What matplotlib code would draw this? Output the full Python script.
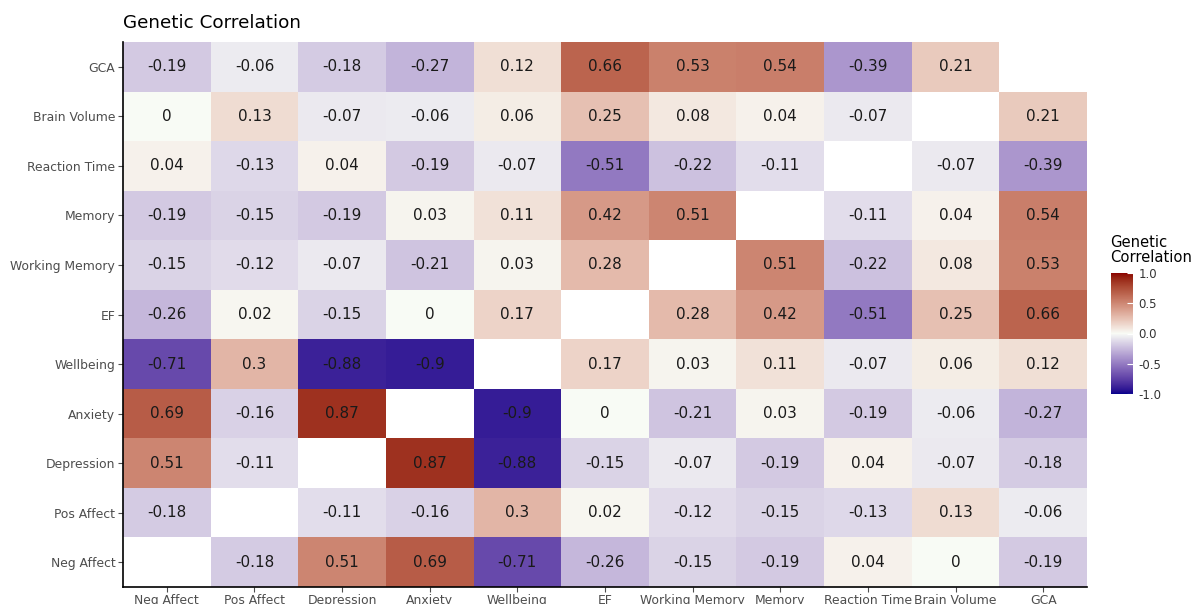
import numpy as np
import matplotlib
matplotlib.use("Agg")
import matplotlib.pyplot as plt
from matplotlib.colors import ListedColormap, Normalize, to_rgb

traits = ["Neg Affect", "Pos Affect", "Depression", "Anxiety", "Wellbeing", "EF",
          "Working Memory", "Memory", "Reaction Time", "Brain Volume", "GCA"]

# rows in order of traits (bottom to top), columns in order of traits (left to right)
row_neg_affect = [None, -0.18, 0.51, 0.69, -0.71, -0.26, -0.15, -0.19, 0.04, 0, -0.19]
row_pos_affect = [-0.18, None, -0.11, -0.16, 0.3, 0.02, -0.12, -0.15, -0.13, 0.13, -0.06]
row_depression = [0.51, -0.11, None, 0.87, -0.88, -0.15, -0.07, -0.19, 0.04, -0.07, -0.18]
row_anxiety = [0.69, -0.16, 0.87, None, -0.9, 0, -0.21, 0.03, -0.19, -0.06, -0.27]
row_wellbeing = [-0.71, 0.3, -0.88, -0.9, None, 0.17, 0.03, 0.11, -0.07, 0.06, 0.12]
row_ef = [-0.26, 0.02, -0.15, 0, 0.17, None, 0.28, 0.42, -0.51, 0.25, 0.66]
row_working_memory = [-0.15, -0.12, -0.07, -0.21, 0.03, 0.28, None, 0.51, -0.22, 0.08, 0.53]
row_memory = [-0.19, -0.15, -0.19, 0.03, 0.11, 0.42, 0.51, None, -0.11, 0.04, 0.54]
row_reaction_time = [0.04, -0.13, 0.04, -0.19, -0.07, -0.51, -0.22, -0.11, None, -0.07, -0.39]
row_brain_volume = [0, 0.13, -0.07, -0.06, 0.06, 0.25, 0.08, 0.04, -0.07, None, 0.21]
row_gca = [-0.19, -0.06, -0.18, -0.27, 0.12, 0.66, 0.53, 0.54, -0.39, 0.21, None]

rows = [row_neg_affect, row_pos_affect, row_depression, row_anxiety, row_wellbeing,
        row_ef, row_working_memory, row_memory, row_reaction_time, row_brain_volume, row_gca]
M = np.array([[np.nan if v is None else v for v in r] for r in rows], dtype=float)

# ---- Lab-space diverging palette (like ggplot scale_fill_gradient2) ----
def srgb_to_lab(c):
    c = np.asarray(c, float)
    lin = np.where(c <= 0.04045, c / 12.92, ((c + 0.055) / 1.055) ** 2.4)
    Mx = np.array([[0.4124564, 0.3575761, 0.1804375],
                   [0.2126729, 0.7151522, 0.0721750],
                   [0.0193339, 0.1191920, 0.9503041]])
    xyz = Mx @ lin
    wp = np.array([0.95047, 1.0, 1.08883])
    t = xyz / wp
    f = np.where(t > 216 / 24389, np.cbrt(t), (24389 / 27 * t + 16) / 116)
    return np.array([116 * f[1] - 16, 500 * (f[0] - f[1]), 200 * (f[1] - f[2])])

def lab_to_srgb(lab):
    L, a, b = lab
    fy = (L + 16) / 116
    fx = fy + a / 500
    fz = fy - b / 200
    def finv(f):
        return f ** 3 if f ** 3 > 216 / 24389 else (116 * f - 16) / (24389 / 27)
    wp = np.array([0.95047, 1.0, 1.08883])
    xyz = np.array([finv(fx), finv(fy), finv(fz)]) * wp
    Minv = np.array([[3.2404542, -1.5371385, -0.4985314],
                     [-0.9692660, 1.8760108, 0.0415560],
                     [0.0556434, -0.2040259, 1.0572252]])
    lin = Minv @ xyz
    lin = np.clip(lin, 0, 1)
    c = np.where(lin <= 0.0031308, 12.92 * lin, 1.055 * lin ** (1 / 2.4) - 0.055)
    return np.clip(c, 0, 1)

low, mid, high = (srgb_to_lab(to_rgb("#00008B")), srgb_to_lab(to_rgb("#F8FBF6")),
                  srgb_to_lab(to_rgb("#8B0000")))
cols = []
for t in np.linspace(0, 1, 512):
    if t < 0.5:
        u = t / 0.5
        lab = low + (mid - low) * u
    else:
        u = (t - 0.5) / 0.5
        lab = mid + (high - mid) * u
    cols.append(lab_to_srgb(lab))
cmap = ListedColormap(cols)
norm = Normalize(-1, 1)

W, H = 1195, 604
fig = plt.figure(figsize=(W / 100, H / 100), dpi=100)
ax = fig.add_axes([123 / W, 1 - 587 / H, (1087 - 123) / W, (587 - 42) / H])

n = len(traits)
mesh = ax.pcolormesh(np.arange(n + 1) - 0.5, np.arange(n + 1) - 0.5,
                     np.ma.masked_invalid(M), cmap=cmap, norm=norm)
for i in range(n):
    for j in range(n):
        v = M[i, j]
        if np.isnan(v):
            continue
        ax.text(j, i, f"{v:g}", ha="center", va="center", fontsize=11, color="#1a1a1a")

ax.set_xlim(-0.5, n - 0.5)
ax.set_ylim(-0.5, n - 0.5)
ax.set_xticks(range(n))
ax.set_xticklabels(traits)
ax.set_yticks(range(n))
ax.set_yticklabels(traits)
ax.tick_params(axis="both", labelsize=8.9, colors="#4d4d4d", length=3.5, width=0.8, pad=2)
ax.tick_params(axis="x", pad=1.5)
for lab in ax.get_xticklabels() + ax.get_yticklabels():
    lab.set_color("#4d4d4d")
ax.spines["top"].set_visible(False)
ax.spines["right"].set_visible(False)
ax.spines["left"].set_linewidth(1.2)
ax.spines["bottom"].set_linewidth(1.2)

fig.text(123 / W, 1 - 23 / H, "Genetic Correlation", fontsize=13.2, va="center", ha="left", color="black")

# colorbar
cax = fig.add_axes([1111 / W, 1 - 394 / H, 22 / W, 121 / H])
cb = fig.colorbar(mesh, cax=cax, ticks=[-1.0, -0.5, 0.0, 0.5, 1.0])
cb.outline.set_visible(False)
cb.ax.set_yticklabels(["-1.0", "-0.5", "0.0", "0.5", "1.0"])
cb.ax.tick_params(labelsize=8.5, colors="white", length=4, width=0.8, direction="in", pad=4)
for lab in cb.ax.get_yticklabels():
    lab.set_color("#333333")
fig.text(1110 / W, 1 - 250 / H, "Genetic\nCorrelation", fontsize=10.6, va="center", ha="left",
         linespacing=0.95, color="black")

fig.savefig("out.png", dpi=100)
